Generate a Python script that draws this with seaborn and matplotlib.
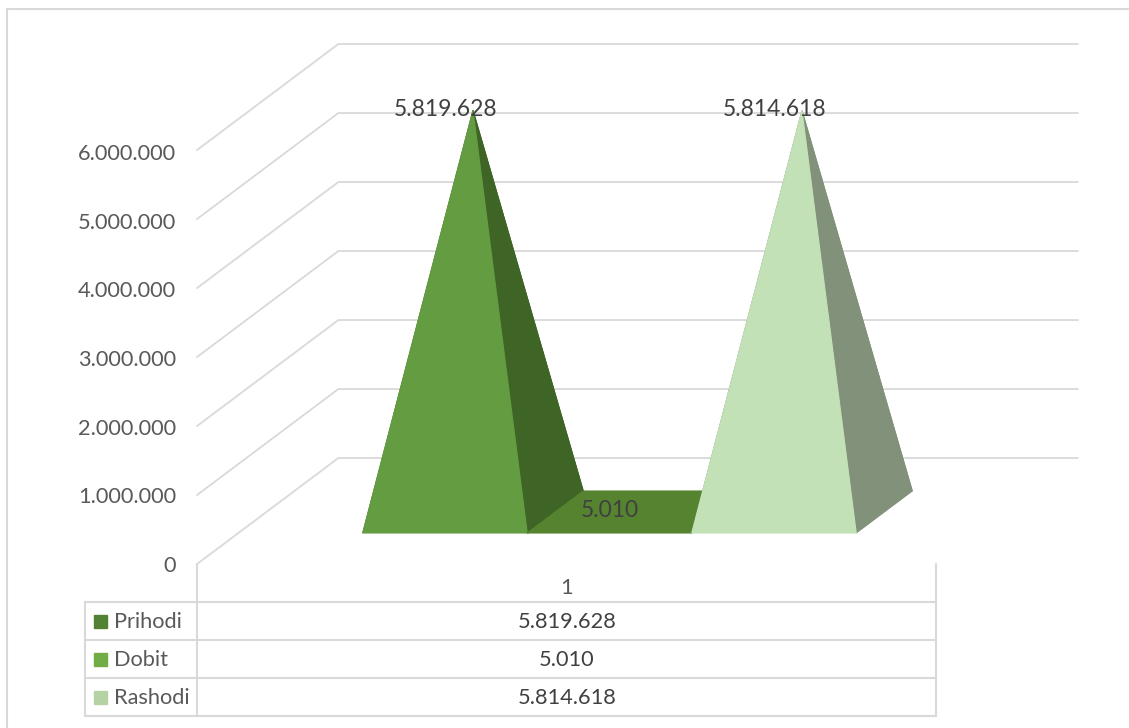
import matplotlib
matplotlib.use("Agg")
import matplotlib.pyplot as plt
from matplotlib.lines import Line2D
from matplotlib.patches import Rectangle
import pandas as pd
import seaborn as sns

W, H = 1129, 728

series = ["Prihodi", "Dobit", "Rashodi"]
values = [5819628, 5010, 5814618]
category = "1"
axis_ticks = [0, 1000000, 2000000, 3000000, 4000000, 5000000, 6000000]
front_colors = ["#639C41", "#55832F", "#C3E1B7"]
side_colors = ["#3F6526", "#55832F", "#82917A"]
key_colors = ["#548235", "#70AD47", "#B5D2A5"]

GRID = "#D9D9D9"
TICK_TEXT = "#595959"
LABEL_TEXT = "#404040"

# oblique projection, all in pixels of the final picture
SLOT = 164.5
PX_PER_UNIT = 69 / 1e6
ORIGIN_X, ORIGIN_Y = 473, 512
DEPTH_DX, DEPTH_DY = 56, 42
DEPTH_FRONT, DEPTH_BACK = -1.24, 1.285
FLOOR_LEFT = -1.256
FLOOR_RIGHT = 3.24

sns.set_theme(style="white")
plt.rcParams["font.family"] = ["Lato", "DejaVu Sans"]

fig = plt.figure(figsize=(W / 100, H / 100), dpi=100)
ax = fig.add_axes([0, 0, 1, 1])
ax.set_xlim(-ORIGIN_X / SLOT, (W - ORIGIN_X) / SLOT)
ax.set_ylim((ORIGIN_Y - H) / PX_PER_UNIT, ORIGIN_Y / PX_PER_UNIT)
ax.axis("off")


def project(x, v, d):
    # depth moves a point right and up on screen
    return x + d * DEPTH_DX / SLOT, v + d * DEPTH_DY / PX_PER_UNIT


def fx(px):
    return px / W


def fy(py):
    return 1 - py / H


def hline(x0, x1, y):
    fig.add_artist(Line2D([fx(x0), fx(x1)], [fy(y), fy(y)], color=GRID, lw=1.5))


def vline(x, y0, y1):
    fig.add_artist(Line2D([fx(x), fx(x)], [fy(y0), fy(y1)], color=GRID, lw=1.5))


# gridlines wrap from the left wall onto the back wall
for tick in axis_ticks:
    pts = [project(FLOOR_LEFT, tick, DEPTH_FRONT),
           project(FLOOR_LEFT, tick, DEPTH_BACK),
           project(FLOOR_RIGHT, tick, DEPTH_BACK)]
    grid = pd.DataFrame(pts, columns=["x", "y"])
    sns.lineplot(data=grid, x="x", y="y", color=GRID, linewidth=1.3, sort=False,
                 estimator=None, legend=False, ax=ax, zorder=1)

# pyramids, far faces first
for i, v in enumerate(values):
    corners = [project(i + a, 0, b) for a, b in
               [(-0.5, -0.5), (0.5, -0.5), (0.5, 0.5), (-0.5, 0.5)]]
    apex = (i, v)
    faces = [(corners[2], corners[3], side_colors[i]),
             (corners[3], corners[0], side_colors[i]),
             (corners[1], corners[2], side_colors[i]),
             (corners[0], corners[1], front_colors[i])]
    for a, b, c in faces:
        ax.fill([a[0], b[0], apex[0]], [a[1], b[1], apex[1]], color=c, lw=0.8, zorder=2 + i)

for i, v in enumerate(values):
    ax.annotate(f"{v:,}".replace(",", "."), (i, v), xytext=(-20, 1),
                textcoords="offset points", ha="center", va="center",
                fontsize=16.5, color=LABEL_TEXT, zorder=6)

# value axis sits on the front edge of the left wall
ax_front = fig.add_axes([fx(197), fy(564), 0.001, (564 - 152) / H])
ax_front.set_ylim(axis_ticks[0], axis_ticks[-1])
ax_front.patch.set_visible(False)
ax_front.set_xticks([])
ax_front.set_yticks(axis_ticks)
ax_front.set_yticklabels([f"{t:,}".replace(",", ".") for t in axis_ticks],
                         fontsize=15.7, color=TICK_TEXT)
ax_front.tick_params(axis="y", length=0, pad=15)
sns.despine(ax=ax_front, left=True, bottom=True)

# data table under the plot
row_lines = [602, 640, 678, 716]
for y in row_lines:
    hline(85, 936, y)
vline(85, 602, 716)
vline(197, 564, 716)
vline(936, 564, 716)

fig.text(fx(567), fy(587.5), category, ha="center", va="center", fontsize=15.7, color=TICK_TEXT)
for i, name in enumerate(series):
    top, bottom = row_lines[i], row_lines[i + 1]
    mid = (top + bottom) / 2
    fig.add_artist(Rectangle((fx(94), fy(mid + 6.5)), 13 / W, 13 / H, color=key_colors[i],
                             transform=fig.transFigure))
    fig.text(fx(114), fy(mid + 0.5), name, ha="left", va="center", fontsize=15.7, color=TICK_TEXT)
    fig.text(fx(567), fy(mid + 1), f"{values[i]:,}".replace(",", "."), ha="center", va="center",
             fontsize=15.7, color=LABEL_TEXT)

# chart frame, open on the right
hline(7, W, 9)
vline(7, 9, H)

fig.savefig("out.png", dpi=100)
